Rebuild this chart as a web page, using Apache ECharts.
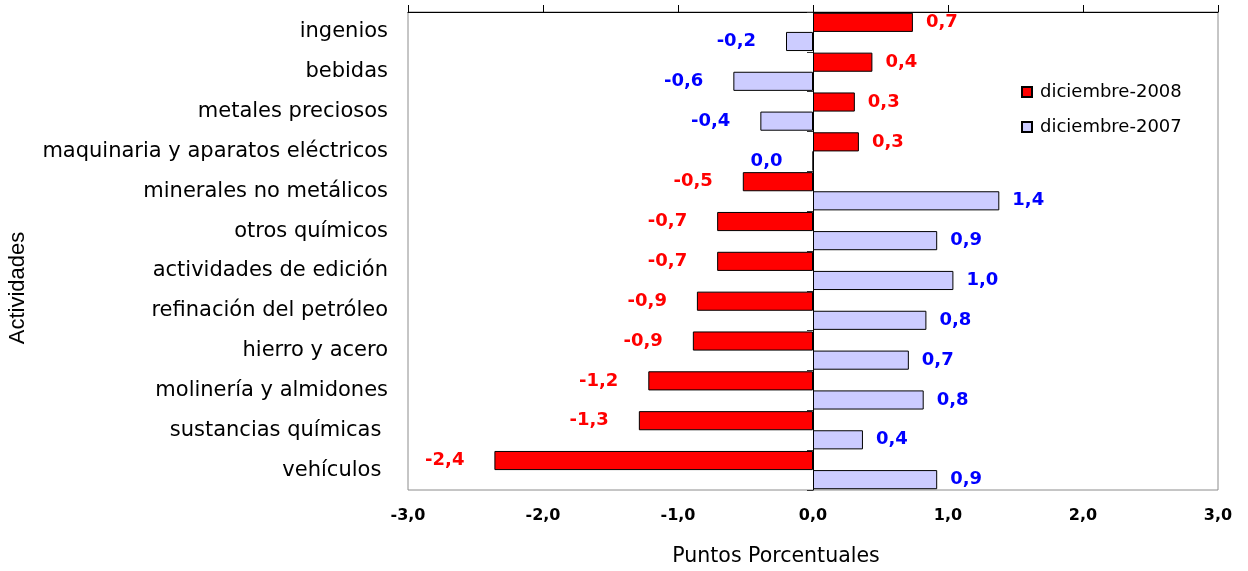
<!DOCTYPE html>
<html>
<head>
<meta charset="utf-8">
<script src="https://cdn.jsdelivr.net/npm/echarts@6/dist/echarts.min.js"></script>
<style>html,body{margin:0;padding:0;background:#fff}#c{width:1248px;height:571px}</style>
</head>
<body>
<div id="c"></div>
<script>
const categories = ["ingenios","bebidas","metales preciosos","maquinaria y aparatos eléctricos","minerales no metálicos","otros químicos","actividades de edición","refinación del petróleo","hierro y acero","molinería y almidones","sustancias químicas ","vehículos "];
const dic2008 = [0.74, 0.44, 0.31, 0.34, -0.52, -0.71, -0.71, -0.86, -0.89, -1.22, -1.29, -2.36];
const dic2007 = [-0.20, -0.59, -0.39, 0.0, 1.38, 0.92, 1.04, 0.84, 0.71, 0.82, 0.37, 0.92];
const seriesNames = ["diciembre-2008", "diciembre-2007"];
const xMin = -3, xMax = 3, xStep = 1;

const fmt = v => v.toFixed(1).replace('.', ',');
const FONT = 'DejaVu Sans';

function mkData(arr, color) {
  return arr.map(v => ({
    value: v,
    label: {
      show: true,
      position: v > 0 ? 'right' : 'left',
      distance: v > 0 ? 13 : 30,
      color: color,
      fontFamily: FONT,
      fontWeight: 'bold',
      fontSize: 18,
      formatter: p => fmt(p.value)
    }
  }));
}

const chart = echarts.init(document.getElementById('c'), null, {renderer: 'canvas'});
chart.setOption({
  animation: false,
  backgroundColor: '#fff',
  grid: {left: 408, right: 30, top: 12, bottom: 81, show: true, borderColor: '#8c8c8c', borderWidth: 1, outerBoundsMode: 'none'},
  legend: {
    orient: 'vertical', left: 1016, top: 78, itemWidth: 10, itemHeight: 10, itemGap: 17,
    icon: 'rect',
    textStyle: {fontFamily: FONT, fontSize: 18, color: '#000', padding: [0,0,0,3]},
    data: seriesNames
  },
  xAxis: [
    {type: 'value', position: 'top', min: xMin, max: xMax, interval: xStep,
     axisLine: {show: true, onZero: false, lineStyle: {color: '#000', width: 1}},
     axisTick: {show: true, length: 7, lineStyle: {color: '#000'}},
     axisLabel: {show: false}, splitLine: {show: false}},
    {type: 'value', position: 'bottom', min: xMin, max: xMax, interval: xStep,
     axisLine: {show: false, onZero: false}, axisTick: {show: false}, splitLine: {show: false},
     axisLabel: {show: true, margin: 18, fontFamily: FONT, fontWeight: 'bold', fontSize: 16, color: '#000', formatter: fmt}}
  ],
  yAxis: [
    {type: 'category', data: categories, inverse: true, position: 'left',
     axisLine: {show: false, onZero: false}, axisTick: {show: false},
     axisLabel: {margin: 20, fontFamily: FONT, fontSize: 21, color: '#000'}},
    {type: 'category', data: categories, inverse: true, position: 'left',
     axisLine: {show: true, onZero: true, onZeroAxisIndex: 0, lineStyle: {color: '#000', width: 1}},
     axisTick: {show: true, length: 6, lineStyle: {color: '#333'}},
     axisLabel: {show: false}}
  ],
  series: [
    {name: seriesNames[0], type: 'bar', xAxisIndex: 0, yAxisIndex: 0, data: mkData(dic2008, '#FF0000'),
     barGap: '0%', barCategoryGap: '4%',
     itemStyle: {color: '#FF0000', borderColor: '#000', borderWidth: 1}},
    {name: seriesNames[1], type: 'bar', xAxisIndex: 0, yAxisIndex: 0, data: mkData(dic2007, '#0000FF'),
     barGap: '0%', barCategoryGap: '4%',
     itemStyle: {color: '#CCCCFF', borderColor: '#000', borderWidth: 1}}
  ],
  graphic: [
    {type: 'text', x: 18, y: 288, rotation: Math.PI/2,
     style: {text: 'Actividades', fontFamily: 'Liberation Sans', fontSize: 22, fill: '#000', align: 'center', verticalAlign: 'middle'}},
    {type: 'text', x: 776, y: 557,
     style: {text: 'Puntos Porcentuales', fontFamily: FONT, fontSize: 20.5, fill: '#000', align: 'center', verticalAlign: 'middle'}}
  ]
});
</script>
</body>
</html>
